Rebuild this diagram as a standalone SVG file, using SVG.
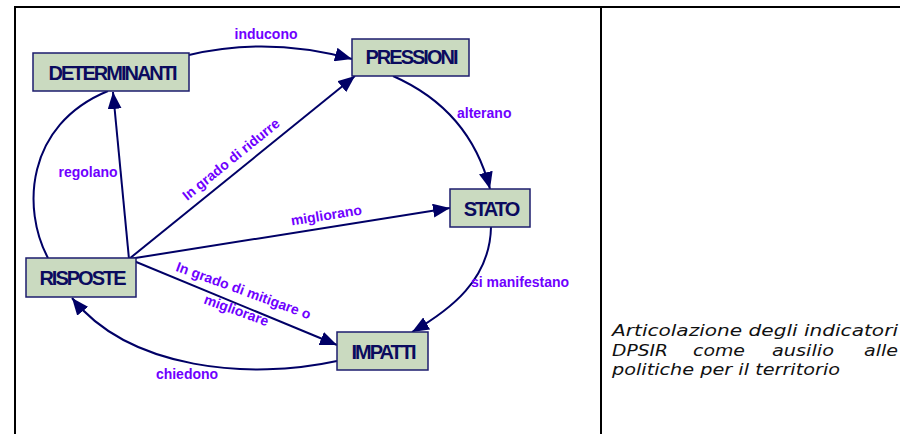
<svg xmlns="http://www.w3.org/2000/svg" width="900" height="434" viewBox="0 0 900 434">
<defs>
<style>
.frame{stroke:#000;stroke-width:2;fill:none}
.box{fill:#CADAC0;stroke:#1C1C6E;stroke-width:1.5}
.nt{font-family:"Liberation Sans",Arial,sans-serif;font-weight:bold;font-size:20px;letter-spacing:-2px;fill:#0B0B5E;text-anchor:middle}
.edge{stroke:#000066;stroke-width:2;fill:none}
.lbl{font-family:"Liberation Sans",Arial,sans-serif;font-weight:bold;font-size:14px;fill:#6F00FF}
.cap{font-family:"DejaVu Sans",sans-serif;font-style:italic;font-size:16.5px;fill:#111}
</style>
<marker id="arr" markerWidth="18" markerHeight="14" refX="17" refY="7" orient="auto" markerUnits="userSpaceOnUse">
<path d="M0,0 L17,7 L0,14 z" fill="#000066"/>
</marker>
</defs>
<rect width="900" height="434" fill="#fff"/>
<g id="frame">
<path class="frame" d="M15,434 L15,7 L900,7"/>
<path class="frame" d="M601,7 L601,434"/>
</g>
<g id="connectors">
<path class="edge" d="M189,55 Q268,36 352,59" marker-end="url(#arr)"/>
<path class="edge" d="M393,76 Q470,110 490,189" marker-end="url(#arr)"/>
<path class="edge" d="M491,227 C490,280 450,310 412,332" marker-end="url(#arr)"/>
<path class="edge" d="M337,361 C250,380 130,370 72,298" marker-end="url(#arr)"/>
<path class="edge" d="M48,258 C22,210 25,125 108,91"/>
<path class="edge" d="M129,259 L113,92" marker-end="url(#arr)"/>
<path class="edge" d="M129,259 L355,76" marker-end="url(#arr)"/>
<path class="edge" d="M129,259 L450,208" marker-end="url(#arr)"/>
<path class="edge" d="M129,259 L337,345" marker-end="url(#arr)"/>
<text class="lbl" x="266" y="39" text-anchor="middle">inducono</text>
<text class="lbl" x="457" y="118">alterano</text>
<text class="lbl" x="471" y="287">si manifestano</text>
<text class="lbl" x="187" y="379" text-anchor="middle">chiedono</text>
<text class="lbl" x="88" y="177" text-anchor="middle">regolano</text>
<text class="lbl" x="234" y="163" text-anchor="middle" transform="rotate(-39 234 163)">In grado di ridurre</text>
<text class="lbl" x="327" y="220" text-anchor="middle" transform="rotate(-9 327 220)">migliorano</text>
<text class="lbl" text-anchor="middle" transform="rotate(20 242 295)"><tspan x="242" y="295">In grado di mitigare o</tspan><tspan x="242" y="316">migliorare</tspan></text>
</g>
<g id="determinanti">
<rect class="box" x="33" y="53" width="156" height="38"/>
<text class="nt" x="112" y="80">DETERMINANTI</text>
</g>
<g id="pressioni">
<rect class="box" x="352" y="39" width="117" height="37"/>
<text class="nt" x="411" y="64">PRESSIONI</text>
</g>
<g id="stato">
<rect class="box" x="450" y="189" width="80" height="38"/>
<text class="nt" x="491" y="216">STATO</text>
</g>
<g id="risposte">
<rect class="box" x="26" y="258" width="110" height="39"/>
<text class="nt" x="82" y="285">RISPOSTE</text>
</g>
<g id="impatti">
<rect class="box" x="337" y="332" width="91" height="38"/>
<text class="nt" x="383" y="359">IMPATTI</text>
</g>
<g id="caption">
<text class="cap" x="612" y="336" textLength="286" lengthAdjust="spacingAndGlyphs">Articolazione degli indicatori</text>
<text class="cap" x="612" y="356" textLength="56" lengthAdjust="spacingAndGlyphs">DPSIR</text>
<text class="cap" x="693" y="356" textLength="52" lengthAdjust="spacingAndGlyphs">come</text>
<text class="cap" x="772" y="356" textLength="62" lengthAdjust="spacingAndGlyphs">ausilio</text>
<text class="cap" x="864" y="356" textLength="34" lengthAdjust="spacingAndGlyphs">alle</text>
<text class="cap" x="612" y="375" textLength="228" lengthAdjust="spacingAndGlyphs">politiche per il territorio</text>
</g>
</svg>
